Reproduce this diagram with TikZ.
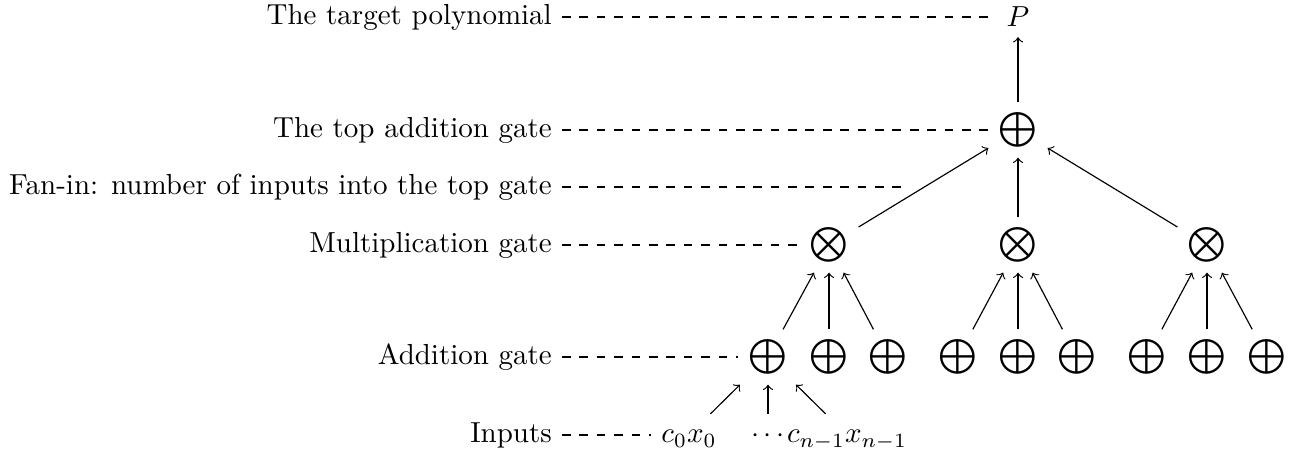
\documentclass[tikz,border=0pt]{standalone}
\usepackage{graphicx}
\newcommand{\gplus}{\scalebox{1.2}{$\bigoplus$}}
\newcommand{\gtimes}{\scalebox{1.2}{$\bigotimes$}}
\begin{document}
\begin{tikzpicture}[x=0.345pt,y=-0.345pt,
  lab/.style={anchor=east},
  guide/.style={dashed},
  edge/.style={->},
  inp/.style={text height=1.5ex,text depth=.25ex}]
\useasboundingbox (0,0) rectangle (1297,450);
% gates
\node (P) at (1018,17) {$P$};
\node (top) at (1018,130) {\gplus};
\node (m1) at (829,245) {\gtimes};
\node (m2) at (1018,245) {\gtimes};
\node (m3) at (1207,245) {\gtimes};
\node (a1) at (768,357) {\gplus};
\node (a2) at (829,357) {\gplus};
\node (a3) at (888,357) {\gplus};
\node (a4) at (958,357) {\gplus};
\node (a5) at (1018,357) {\gplus};
\node (a6) at (1077,357) {\gplus};
\node (a7) at (1147,357) {\gplus};
\node (a8) at (1207,357) {\gplus};
\node (a9) at (1267,357) {\gplus};
\node[inp] (i1) at (689,435) {$c_0x_0$};
\node[inp] (i2) at (768,435) {$\cdots$};
\node[inp] (i3) at (847,435) {$c_{n-1}x_{n-1}$};
% edges
\draw[edge] (top) -- (P);
\foreach \m in {m1,m2,m3} \draw[edge] (\m) -- (top);
\foreach \a in {a1,a2,a3} \draw[edge] (\a) -- (m1);
\foreach \a in {a4,a5,a6} \draw[edge] (\a) -- (m2);
\foreach \a in {a7,a8,a9} \draw[edge] (\a) -- (m3);
\foreach \i in {i1,i2,i3} \draw[edge] (\i) -- (a1);
% labels
\coordinate (fan) at (905,187);
\node[lab] (l1) at (562,17) {The target polynomial};
\node[lab] (l2) at (562,130) {The top addition gate};
\node[lab] (l3) at (562,187) {Fan-in: number of inputs into the top gate};
\node[lab] (l4) at (562,245) {Multiplication gate};
\node[lab] (l5) at (562,357) {Addition gate};
\node[lab] (l6) at (562,435) {Inputs};
\draw[guide] (l1) -- (P);
\draw[guide] (l2) -- (top);
\draw[guide] (l3) -- (fan);
\draw[guide] (l4) -- (m1);
\draw[guide] (l5) -- (a1);
\draw[guide] (l6) -- (i1);
\end{tikzpicture}
\end{document}
